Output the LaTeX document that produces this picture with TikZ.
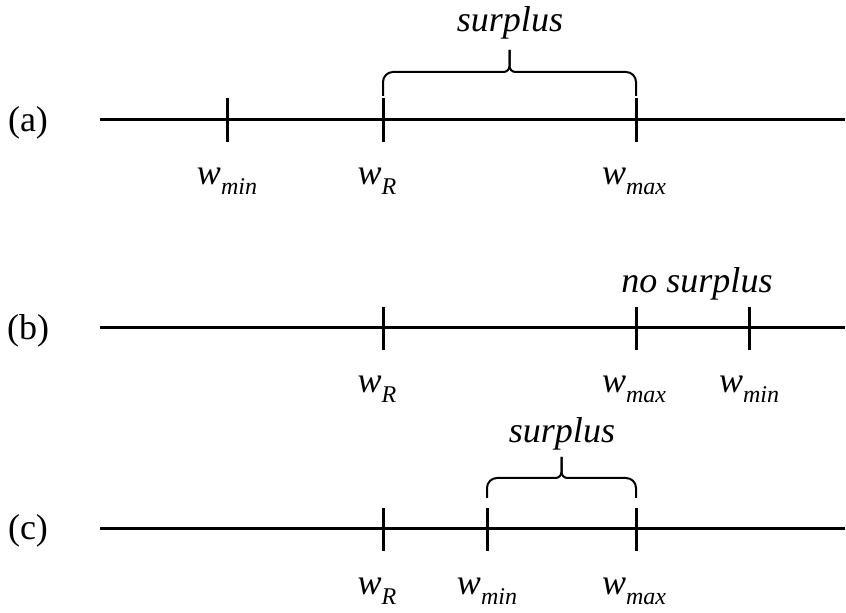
\documentclass[tikz,border=0pt]{standalone}
\usepackage{fontspec}
\setmainfont{Liberation Serif}
% w with an italic subscript
\newcommand\wlab[1]{\textit{w}\raisebox{-5pt}{\fontsize{12}{12}\selectfont\textit{#1}}}
% curly brace over an interval: x1, x2, end height, bar height, tip height
\newcommand\spanbrace[5]{%
  \draw[bracestyle,rounded corners=5pt] (#1,#3) -- (#1,#4) [rounded corners=3pt] -- ({(#1+#2)/2},#4) -- ({(#1+#2)/2},#5);
  \draw[bracestyle,rounded corners=5pt] (#2,#3) -- (#2,#4) [rounded corners=3pt] -- ({(#1+#2)/2},#4) -- ({(#1+#2)/2},#5);
}
\begin{document}
\begin{tikzpicture}[x=0.5pt,y=-0.5pt,
  axis/.style={line width=1.5pt},
  tick/.style={line width=1.5pt},
  bracestyle/.style={line width=1pt},
  txt/.style={font=\fontsize{18}{20}\selectfont,inner sep=0pt,anchor=base}]
\useasboundingbox (0,0) rectangle (846,613);

% ---- row (a)
\node[txt] (la) at (28,132) {(a)};
\coordinate (a0) at (100,120); \coordinate (a1) at (845,120);
\draw[axis] (a0) -- (a1);
\foreach \n/\x in {amin/227,aR/383,amax/636}{
  \coordinate (\n) at (\x,120);
  \draw[tick] (\x,98) -- (\x,142);
}
\node[txt] (wamin) at (227,185) {\wlab{min}};
\node[txt] (waR) at (377,185) {\wlab{R}};
\node[txt] (wamax) at (634,185) {\wlab{max}};
\spanbrace{383}{636}{96}{72}{50}
\node[txt] (sa) at (510,32) {\textit{surplus}};

% ---- row (b)
\node[txt] (lb) at (28,340) {(b)};
\coordinate (b0) at (100,328); \coordinate (b1) at (845,328);
\draw[axis] (b0) -- (b1);
\foreach \n/\x in {bR/383,bmax/636,bmin/749}{
  \coordinate (\n) at (\x,328);
  \draw[tick] (\x,307) -- (\x,350);
}
\node[txt] (wbR) at (377,393) {\wlab{R}};
\node[txt] (wbmax) at (634,393) {\wlab{max}};
\node[txt] (wbmin) at (749,393) {\wlab{min}};
\node[txt] (sb) at (697,293) {\textit{no surplus}};

% ---- row (c)
\node[txt] (lc) at (28,540) {(c)};
\coordinate (c0) at (100,529); \coordinate (c1) at (845,529);
\draw[axis] (c0) -- (c1);
\foreach \n/\x in {cR/383,cmin/487,cmax/636}{
  \coordinate (\n) at (\x,529);
  \draw[tick] (\x,508) -- (\x,551);
}
\node[txt] (wcR) at (377,595) {\wlab{R}};
\node[txt] (wcmin) at (487,595) {\wlab{min}};
\node[txt] (wcmax) at (634,595) {\wlab{max}};
\spanbrace{487}{636}{498}{478}{457}
\node[txt] (sc) at (562,443) {\textit{surplus}};
\end{tikzpicture}
\end{document}
